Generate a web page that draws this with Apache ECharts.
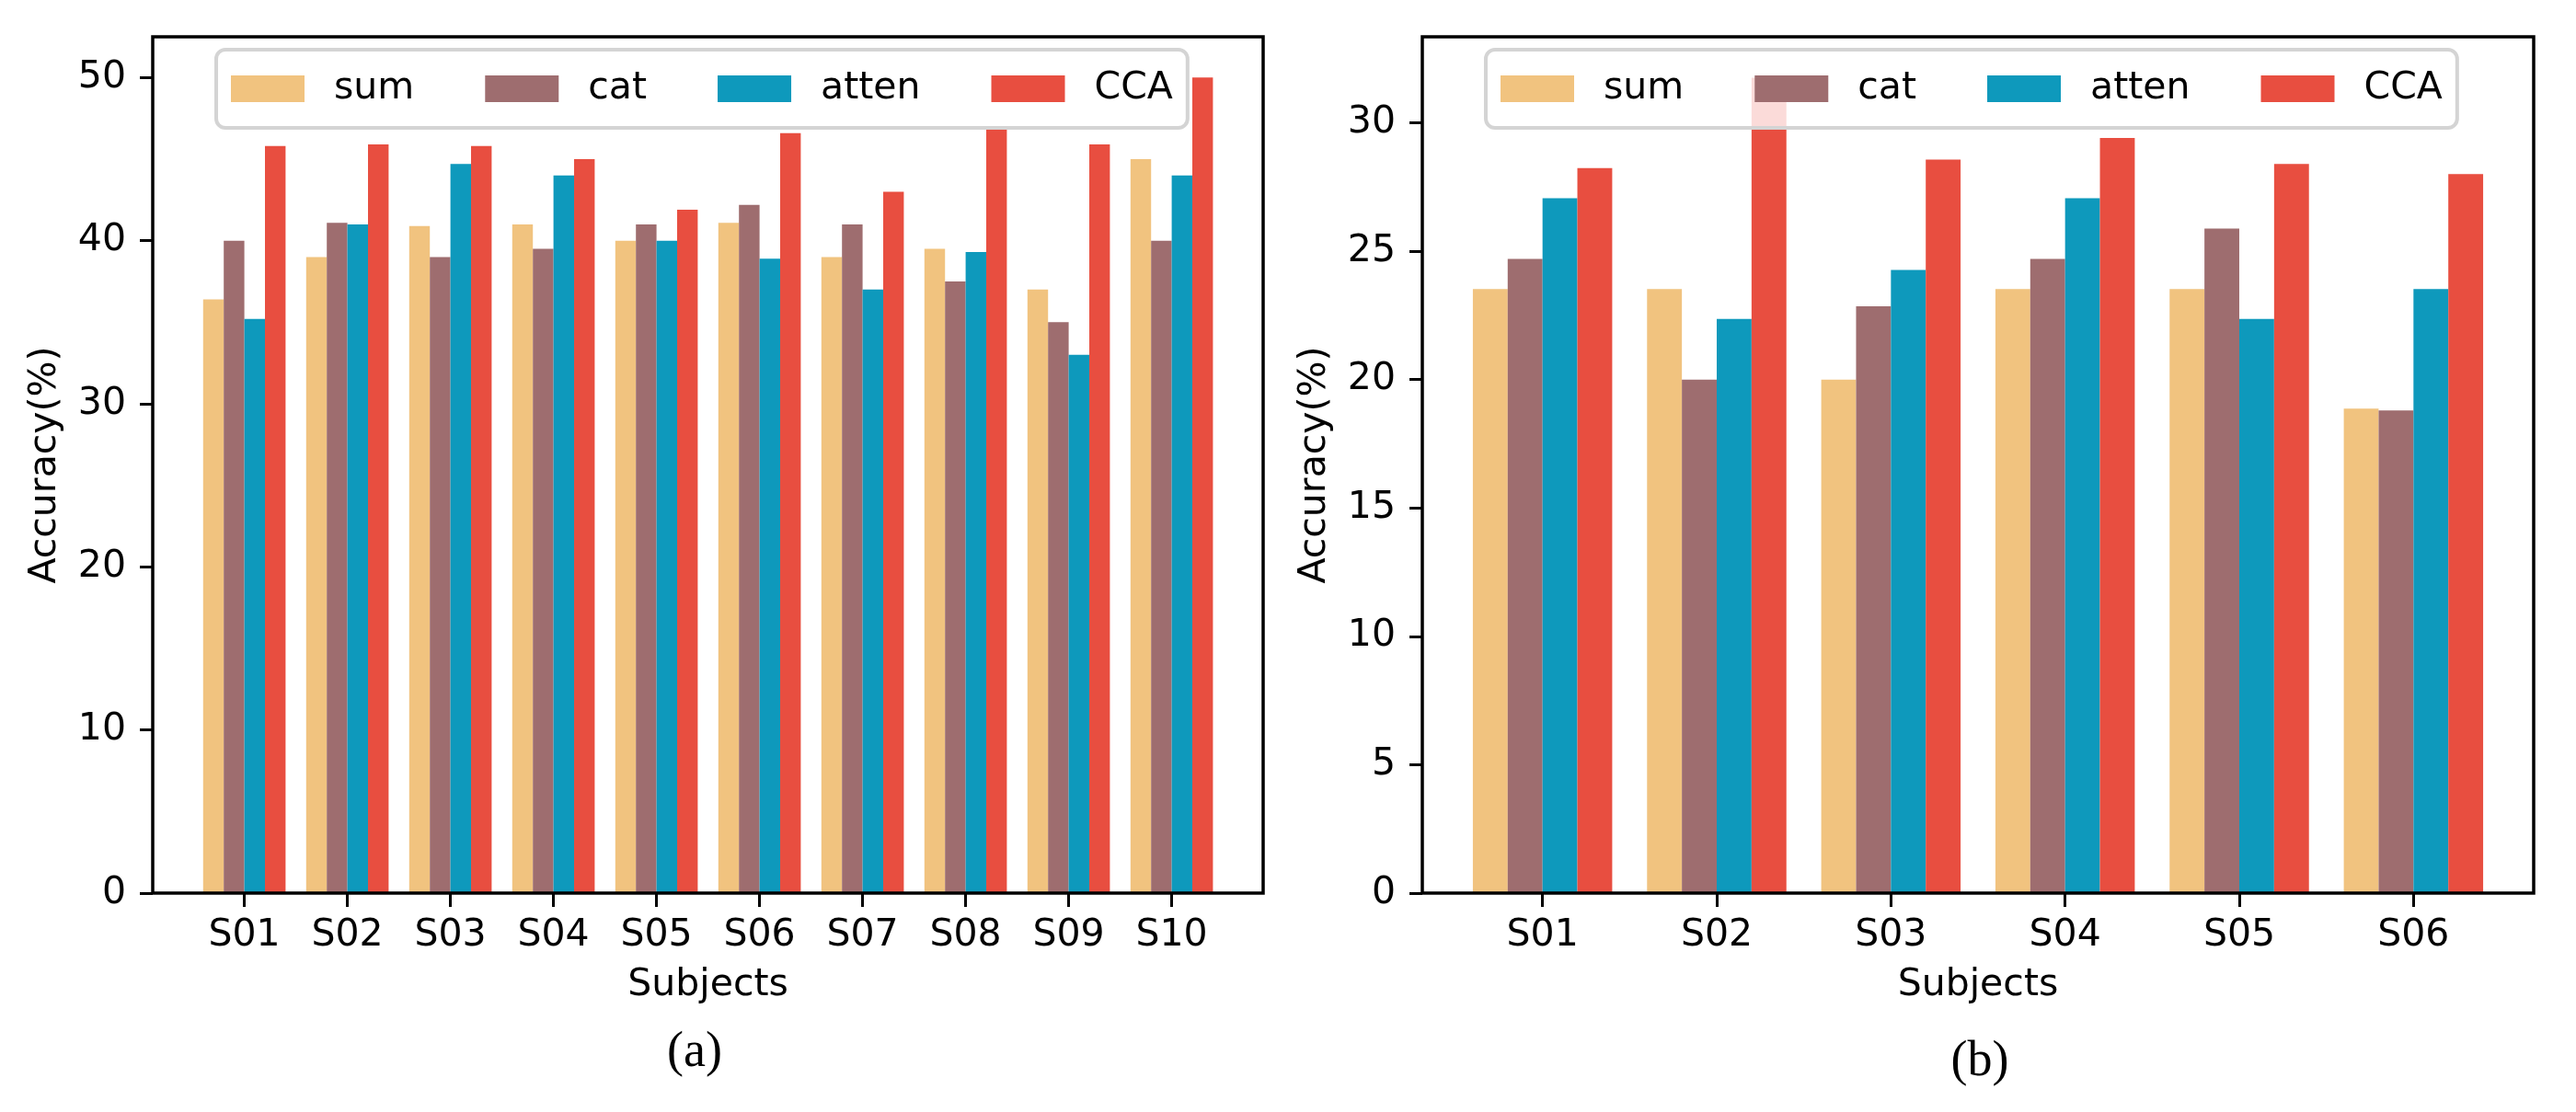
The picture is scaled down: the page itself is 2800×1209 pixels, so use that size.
<!DOCTYPE html>
<html>
<head>
<meta charset="utf-8">
<script src="https://cdn.jsdelivr.net/npm/echarts@6/dist/echarts.min.js"></script>
<style>
html,body{margin:0;padding:0;background:#fff;}
#chart{width:2800px;height:1209px;}
</style>
</head>
<body>
<div id="chart"></div>
<script>
// ---- data ----
var seriesNames = ['sum', 'cat', 'atten', 'CCA'];
var categoriesA = ['S01','S02','S03','S04','S05','S06','S07','S08','S09','S10'];
var sumA   = [36.4, 39.0, 40.9, 41.0, 40.0, 41.1, 39.0, 39.5, 37.0, 45.0];
var catA   = [40.0, 41.1, 39.0, 39.5, 41.0, 42.2, 41.0, 37.5, 35.0, 40.0];
var attenA = [35.2, 41.0, 44.7, 44.0, 40.0, 38.9, 37.0, 39.3, 33.0, 44.0];
var ccaA   = [45.8, 45.9, 45.8, 45.0, 41.9, 46.6, 43.0, 47.0, 45.9, 50.0];
var yTicksA = [0, 10, 20, 30, 40, 50];

var categoriesB = ['S01','S02','S03','S04','S05','S06'];
var sumB   = [23.53, 23.53, 20.0, 23.53, 23.53, 18.87];
var catB   = [24.7, 20.0, 22.85, 24.7, 25.88, 18.8];
var attenB = [27.06, 22.36, 24.27, 27.06, 22.36, 23.53];
var ccaB   = [28.24, 31.76, 28.57, 29.41, 28.4, 28.0];
var yTicksB = [0, 5, 10, 15, 20, 25, 30];

var colors = ['#F1C37F', '#9E6D6F', '#0E99BC', '#E84E40'];

var FONT = 'DejaVu Sans';
var FS = 41;

function frameY(max, ticks, name) {
  return {
    type: 'value', min: 0, max: max,
    axisLine: {show: false},
    splitLine: {show: false},
    axisTick: {show: true, length: 14, lineStyle: {color: '#000', width: 3}, customValues: ticks},
    axisLabel: {show: true, fontSize: FS, fontFamily: FONT, color: '#000', margin: 29, customValues: ticks},
    name: name, nameLocation: 'middle', nameGap: 96,
    nameTextStyle: {fontSize: FS, fontFamily: FONT, color: '#000'}
  };
}
function innerY(max) {
  return {type: 'value', min: 0, max: max, show: false, splitLine: {show: false}};
}
function innerX(cats) {
  return {
    type: 'category', data: cats,
    axisLine: {show: false},
    axisTick: {show: true, alignWithLabel: true, length: 15, lineStyle: {color: '#000', width: 3}},
    axisLabel: {fontSize: FS, fontFamily: FONT, color: '#000', margin: 26},
    name: 'Subjects', nameLocation: 'middle', nameGap: 80,
    nameTextStyle: {fontSize: FS, fontFamily: FONT, color: '#000'}
  };
}
function frameX() {
  return {type: 'value', min: 0, max: 1, show: false};
}
function legendAt(left) {
  return {
    data: seriesNames, left: left, top: 54, orient: 'horizontal',
    icon: 'rect', itemWidth: 80, itemHeight: 29, itemGap: 77,
    padding: [22, 16],
    backgroundColor: 'rgba(255,255,255,0.8)',
    borderColor: '#d4d4d4', borderWidth: 4, borderRadius: 10,
    textStyle: {fontSize: FS, fontFamily: FONT, color: '#000', lineHeight: 29, padding: [0, 0, 0, 27]},
    selectedMode: false, z: 10
  };
}

var dataA = [sumA, catA, attenA, ccaA];
var dataB = [sumB, catB, attenB, ccaB];
var series = [];
seriesNames.forEach(function (n, i) {
  series.push({name: n, type: 'bar', xAxisIndex: 1, yAxisIndex: 1, data: dataA[i],
    barGap: '0%', barCategoryGap: '20%', itemStyle: {color: colors[i]}, animation: false});
});
seriesNames.forEach(function (n, i) {
  series.push({name: n, type: 'bar', xAxisIndex: 3, yAxisIndex: 3, data: dataB[i],
    barGap: '0%', barCategoryGap: '20%', itemStyle: {color: colors[i]}, animation: false});
});

var option = {
  backgroundColor: '#fff',
  animation: false,
  color: colors,
  grid: [
    {left: 166, right: 1427, top: 40, bottom: 238, show: true, borderColor: '#000', borderWidth: 3.5, backgroundColor: 'transparent', z: 5},
    {left: 209.6, right: 1470.4, top: 40, bottom: 238},
    {left: 1546, right: 46, top: 40, bottom: 238, show: true, borderColor: '#000', borderWidth: 3.5, backgroundColor: 'transparent', z: 5},
    {left: 1582, right: 82, top: 40, bottom: 238}
  ],
  xAxis: [
    Object.assign(frameX(), {gridIndex: 0}),
    Object.assign(innerX(categoriesA), {gridIndex: 1}),
    Object.assign(frameX(), {gridIndex: 2}),
    Object.assign(innerX(categoriesB), {gridIndex: 3})
  ],
  yAxis: [
    Object.assign(frameY(52.5, yTicksA, 'Accuracy(%)'), {gridIndex: 0}),
    Object.assign(innerY(52.5), {gridIndex: 1}),
    Object.assign(frameY(33.35, yTicksB, 'Accuracy(%)'), {gridIndex: 2}),
    Object.assign(innerY(33.35), {gridIndex: 3})
  ],
  legend: [legendAt(235), legendAt(1615)],
  series: series,
  graphic: [
    {type: 'text', x: 755, y: 1145, style: {text: '(a)', font: '54px "Liberation Serif"', fill: '#000', textAlign: 'center', textVerticalAlign: 'middle'}},
    {type: 'text', x: 2152, y: 1155, style: {text: '(b)', font: '54px "Liberation Serif"', fill: '#000', textAlign: 'center', textVerticalAlign: 'middle'}}
  ]
};

var chart = echarts.init(document.getElementById('chart'), null, {renderer: 'canvas'});
chart.setOption(option);
</script>
</body>
</html>
